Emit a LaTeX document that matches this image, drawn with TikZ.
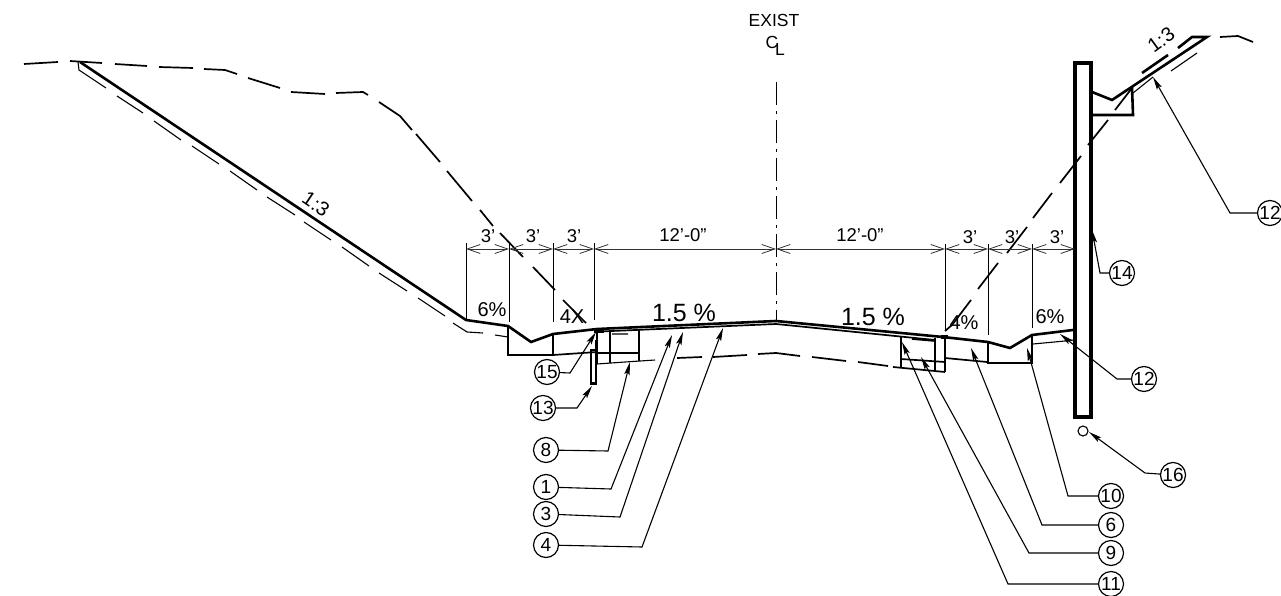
\documentclass[tikz,border=0pt]{standalone}
\usepackage{fontspec}
\setmainfont{Liberation Sans}
\usetikzlibrary{arrows.meta}
\tikzset{
  x=1pt,y=-1pt,
  heavy/.style={line width=2.6pt,line join=miter},
  med/.style={line width=1.7pt},
  slim/.style={line width=1.1pt},
  ext/.style={line width=1pt},
  dim/.style={line width=0.8pt,black!80,{Straight Barb[length=13pt,width=9pt]}-{Straight Barb[length=13pt,width=9pt]}},
  leader/.style={line width=1.1pt,-{Stealth[length=13pt,width=5.5pt,inset=2.5pt]}},
  callout/.style={circle,draw,line width=1.2pt,minimum size=25pt,inner sep=0pt,font=\fontsize{19}{19}\selectfont},
  dimtxt/.style={inner sep=0pt,font=\fontsize{18.5}{19}\selectfont},
  pct/.style={inner sep=0pt,font=\fontsize{20}{20}\selectfont},
  grade/.style={inner sep=0pt,font=\fontsize{25}{25}\selectfont},
  labeltxt/.style={inner sep=0pt,font=\fontsize{17.5}{18}\selectfont},
}
\begin{document}
\begin{tikzpicture}
\useasboundingbox (0,0) rectangle (1281,596);
% existing ground, dashed
\draw[med] (24,64)--(58,62) (70,61)--(102,63) (115,64)--(147,66) (159,67)--(193,68)
  (204,69)--(225,70)--(237,74) (248,78)--(280,88) (291,92)--(325,94) (336,93)--(363,92)--(368,95)
  (379,102)--(400,116)--(412,130) (416,134)--(440,162) (447,171)--(472,201) (480,210)--(493,226)
  (500,233)--(523,257) (533,267)--(555,290) (563,300)--(586,323);
\draw[med] (1115,110)--(1132,88) (1108,120)--(1088,145) (1081,156)--(1060,183) (1052,193)--(1033,218)
  (1027,227)--(1007,253) (998,263)--(978,289) (971,300)--(952,325)--(945,331);
\draw[med] (1220,37)--(1238,36)--(1253,42);
% left slope
\draw[heavy] (80,62)--(466,320)--(508,326)--(531,342)--(553,334)--(597,329)--(776,321)
  --(943,337)--(988,342)--(1010,348)--(1032,335)--(1073,330);
\draw[med] (600,331.5)--(776,324)--(935,340);
\draw[slim] (78,62)--(79,70)--(106,88) (117,96)--(143,113) (154,121)--(181,140) (192,146)--(219,164)
  (230,171)--(257,190) (267,197)--(295,215) (304,222)--(331,240) (342,247)--(369,266) (379,273)--(407,291)
  (418,298)--(445,316);
\draw[slim] (453,323)--(467,332)--(483,333) (495,335)--(508,337);
% left ditch and pavement boxes
\draw[heavy] (508,326)--(508,355)--(553,355)--(553,334);
\draw[med] (553,355)--(597,352);
\draw[med] (597,329)--(597,364);
\draw[slim] (610,330)--(610,363) (597,353)--(639,353);
\draw[heavy] (639,330)--(639,361);
\draw[slim] (597,364)--(625,362)--(655,360) (612,334)--(628,334);
\draw[med] (677,358)--(702,357) (713,357)--(747,355) (758,354)--(776,353)--(800,356);
\draw[med] (812,357)--(846,361) (858,362)--(888,366);
\draw[slim] (591,350) rectangle (596,383);
\draw[heavy] (596,340)--(596,384)--(590,384);
\fill (594,328) rectangle (604,333);
% right pavement boxes and ditch
\draw[med] (901,337)--(901,368) (901,359)--(945,362) (893,367)--(945,372) (935,338)--(935,371);
\draw[heavy] (945,338)--(945,372);
\draw[med] (912,339)--(935,341);
\fill (941,335) rectangle (948,339);
\draw[med] (945,358)--(987,362);
\draw[heavy] (988,342)--(988,363)--(1032,363)--(1032,335);
\draw[slim] (1033,344)--(1065,341)--(1074,340);
% wall
\draw[line width=3.2pt] (1075,63) rectangle (1091,417);
\draw[slim] (1083,431) circle (5);
% right upper slope
\draw[heavy] (1092,92)--(1112,100)--(1207,37)--(1192,37)--(1178,48);
\draw[heavy] (1168,55)--(1142,73);
\draw[heavy] (1132,87)--(1133,115)--(1092,115);
\draw[slim] (1153,77)--(1133,93) (1197,53)--(1171,71);
% dimension lines
\foreach \n/\x/\a/\b in {a/466/243/320,b/509/243/322,c/553/243/322,d/594/243/320,f/945/244/330,g/988/244/335,h/1032/244/328}{
  \coordinate (\n t) at (\x,\a);
  \coordinate (\n b) at (\x,\b);
  \coordinate (\n m) at (\x,249);
  \draw[ext] (\n t)--(\n b);
}
\coordinate (em) at (776,249);
\coordinate (im) at (1075,249);
\coordinate (clT) at (776,82);
\coordinate (clB) at (776,320);
\draw[ext,dash pattern=on 23pt off 6pt on 3pt off 6pt] (clT)--(clB);
\draw[dim] (am)--(bm);
\draw[dim] (bm)--(cm);
\draw[dim] (cm)--(dm);
\draw[dim] (dm)--(em);
\draw[dim] (em)--(fm);
\draw[dim] (fm)--(gm);
\draw[dim] (gm)--(hm);
\draw[dim] (hm)--(im);
% texts
\node[dimtxt] (t1) at (488,236) {3'};
\node[dimtxt] (t2) at (533,236) {3'};
\node[dimtxt] (t3) at (574,236) {3'};
\node[dimtxt] (t4) at (683,235) {12'-0"};
\node[dimtxt] (t5) at (860,235) {12'-0"};
\node[dimtxt] (t6) at (970,237) {3'};
\node[dimtxt] (t7) at (1012,237) {3'};
\node[dimtxt] (t8) at (1057,237) {3'};
\node[pct] (p1) at (492,310) {6\%};
\node[pct] (p2) at (572,317) {4X};
\node[grade] (p3) at (684,313) {1.5 \%};
\node[grade] (p4) at (873,317) {1.5 \%};
\node[pct] (p5) at (964,323) {4\%};
\node[pct] (p6) at (1050,317) {6\%};
\node[pct,rotate=-34] (s1) at (316,204) {1:3};
\node[pct,rotate=36] (s2) at (1161,40) {1:3};
\node[labeltxt] (ex) at (774,20) {EXIST};
\node[labeltxt] (clc) at (772,42) {C};
\node[labeltxt] (cll) at (780,49) {L};
% callouts
\node[callout] (c15) at (547,372) {15};
\node[callout] (c13) at (543,408) {13};
\node[callout] (c8) at (546,450) {8};
\node[callout] (c1) at (546,487) {1};
\node[callout] (c3) at (546,514) {3};
\node[callout] (c4) at (546,545) {4};
\node[callout] (c10) at (1111,496) {10};
\node[callout] (c6) at (1111,525) {6};
\node[callout] (c9) at (1111,553) {9};
\node[callout] (c11) at (1111,584) {11};
\node[callout] (c16) at (1173,475) {16};
\node[callout] (c14) at (1122,273) {14};
\node[callout] (c12a) at (1144,379) {12};
\node[callout] (c12b) at (1270,213) {12};
\foreach \c/\ex/\ey/\tx/\ty in {
  c15/570/373/596/332, c13/577/408/592/386, c8/608/451/630/362, c1/611/489/672/335,
  c3/620/517/683/332, c4/642/547/723/328, c10/1068/496/1027/348, c6/1042/525/971/348,
  c9/1029/553/921/357, c11/1008/584/902/342, c16/1145/473/1089/432, c14/1100/273/1092/230,
  c12a/1117/379/1060/334, c12b/1230/213/1153/77}{
  \coordinate (\c e) at (\ex,\ey);
  \coordinate (\c t) at (\tx,\ty);
  \draw[leader] (\c)--(\c e)--(\c t);
}
\end{tikzpicture}
\end{document}
